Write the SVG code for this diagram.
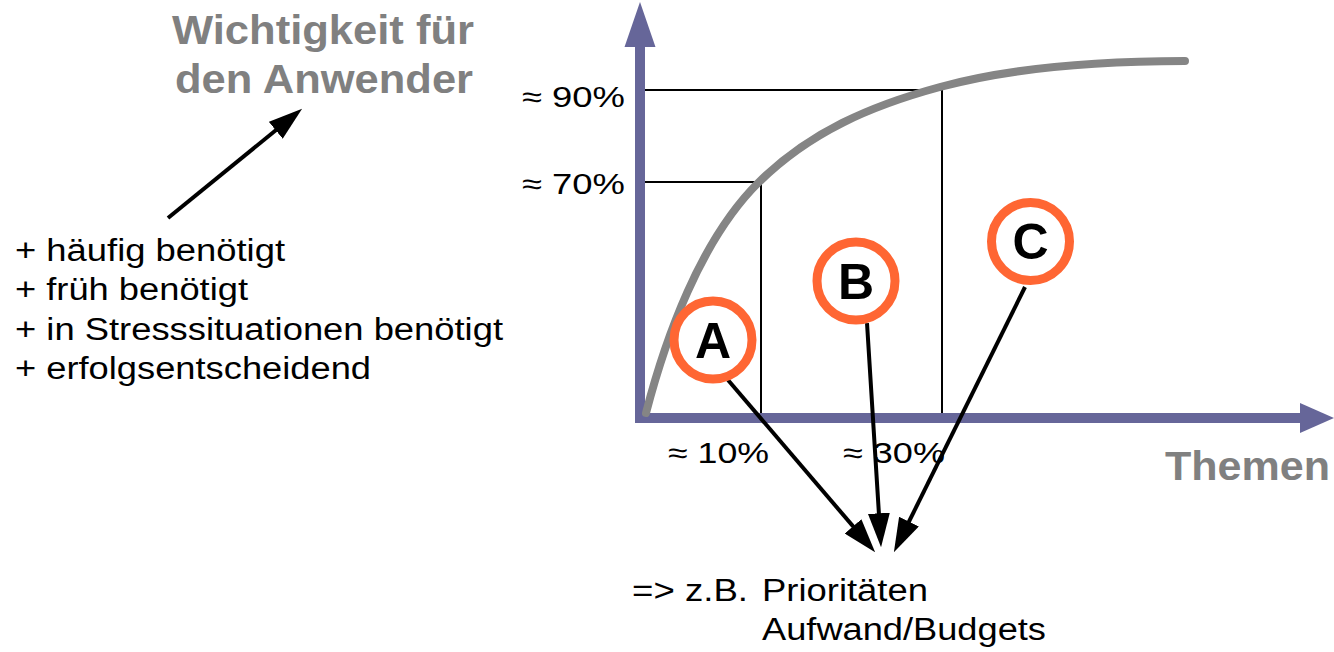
<svg xmlns="http://www.w3.org/2000/svg" width="1334" height="652" viewBox="0 0 1334 652">
<style>
.t{font-family:"Liberation Sans",Arial,sans-serif;font-size:31px;fill:#000}
.p{font-family:"Liberation Sans",Arial,sans-serif;font-size:29px;fill:#000}
.g{font-family:"Liberation Sans",Arial,sans-serif;font-size:40px;font-weight:bold;fill:#808080}
.ring{fill:#fff;stroke:#ff6633;stroke-width:9}
.lt{font-family:"Liberation Sans",Arial,sans-serif;font-size:50px;font-weight:bold;fill:#000;text-anchor:middle}
.thin{stroke:#000;stroke-width:2;fill:none}
.conn{stroke:#000;stroke-width:4;fill:none;marker-end:url(#ah)}
</style>
<defs>
<marker id="ah" viewBox="0 0 10 10" refX="7" refY="5" markerWidth="8.5" markerHeight="5.5" markerUnits="strokeWidth" orient="auto" preserveAspectRatio="none">
<path d="M0,0 L10,5 L0,10 z" fill="#000"/>
</marker>
</defs>
<rect width="1334" height="652" fill="#fff"/>
<g id="axes">
<rect x="635" y="45" width="10" height="378" fill="#666699"/>
<path d="M624.5,47 L640,2 L655.5,47 z" fill="#666699"/>
<rect x="635" y="413" width="667" height="10" fill="#666699"/>
<path d="M1300,403 L1334,418 L1300,433 z" fill="#666699"/>
</g>
<g id="grid">
<path class="thin" d="M645,90 H942 V413"/>
<path class="thin" d="M645,182 H761 V413"/>
</g>
<g id="curve">
<path d="M646,413 C665,340 700,240 759,182 C810,132 870,106 940,87 C1010,68 1100,61 1185,61" fill="none" stroke="#858585" stroke-width="8" stroke-linecap="round"/>
</g>
<g id="labels">
<text class="p" x="522" y="107" textLength="103" lengthAdjust="spacingAndGlyphs">≈ 90%</text>
<text class="p" x="522" y="194" textLength="103" lengthAdjust="spacingAndGlyphs">≈ 70%</text>
<text class="p" x="668" y="463" textLength="101" lengthAdjust="spacingAndGlyphs">≈ 10%</text>
<text class="p" x="843" y="463" textLength="102" lengthAdjust="spacingAndGlyphs">≈ 30%</text>
</g>
<g id="title">
<text class="g" x="172" y="44" textLength="302" lengthAdjust="spacingAndGlyphs">Wichtigkeit für</text>
<text class="g" x="175" y="93" textLength="298" lengthAdjust="spacingAndGlyphs">den Anwender</text>
</g>
<g id="themen"><text class="g" x="1165" y="480" textLength="165" lengthAdjust="spacingAndGlyphs">Themen</text></g>
<g id="list">
<text class="t" x="15" y="261" textLength="270" lengthAdjust="spacingAndGlyphs">+ häufig benötigt</text>
<text class="t" x="15" y="300" textLength="233" lengthAdjust="spacingAndGlyphs">+ früh benötigt</text>
<text class="t" x="15" y="340" textLength="488" lengthAdjust="spacingAndGlyphs">+ in Stresssituationen benötigt</text>
<text class="t" x="15" y="379" textLength="356" lengthAdjust="spacingAndGlyphs">+ erfolgsentscheidend</text>
</g>
<g id="result">
<text class="t" x="632" y="601" textLength="116" lengthAdjust="spacingAndGlyphs">=&gt; z.B.</text>
<text class="t" x="762" y="601" textLength="166" lengthAdjust="spacingAndGlyphs">Prioritäten</text>
<text class="t" x="762" y="640" textLength="284" lengthAdjust="spacingAndGlyphs">Aufwand/Budgets</text>
</g>
<g id="connectors">
<path class="conn" d="M168,218 L294.2,115.3"/>
<path class="conn" d="M728,380 L868.5,544.4"/>
<path class="conn" d="M867,323 L880.4,537"/>
<path class="conn" d="M1025,287 L898.4,543"/>
</g>
<g id="nodeA"><circle class="ring" cx="713" cy="340" r="39"/><text class="lt" x="713" y="358">A</text></g>
<g id="nodeB"><circle class="ring" cx="856" cy="281" r="39"/><text class="lt" x="856" y="299">B</text></g>
<g id="nodeC"><circle class="ring" cx="1030.5" cy="241.5" r="39"/><text class="lt" x="1030.5" y="259">C</text></g>
</svg>
